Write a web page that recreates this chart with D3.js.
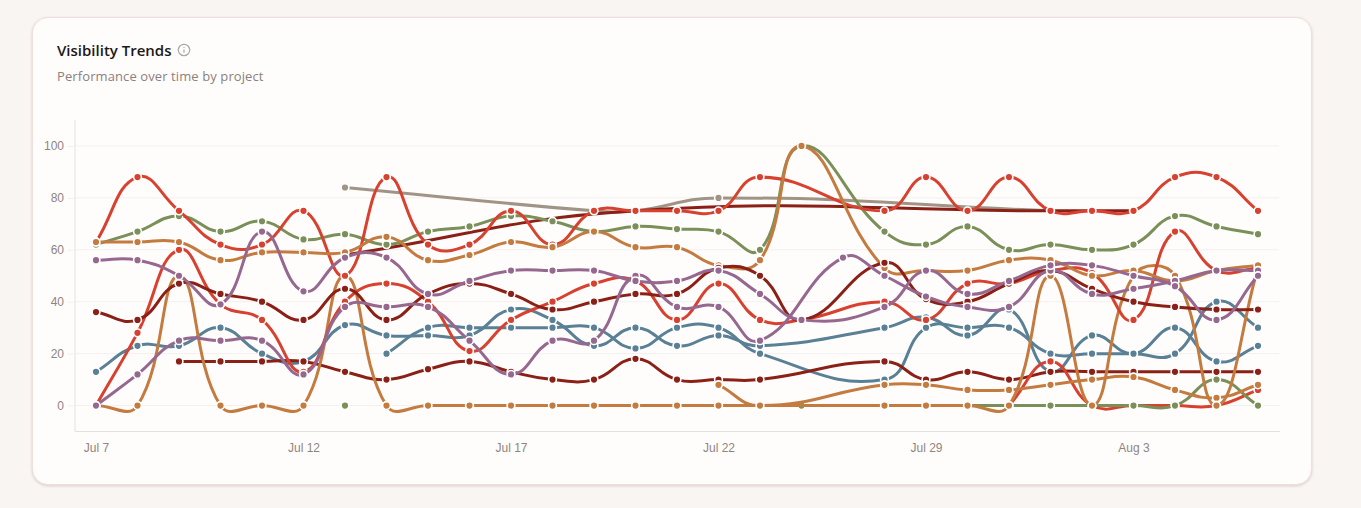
<!DOCTYPE html>
<html>
<head>
<meta charset="utf-8">
<script src="https://d3js.org/d3.v7.min.js"></script>
<style>
  body { margin: 0; background: #f9f5f3; font-family: "Open Sans", "Noto Sans", sans-serif; overflow: hidden; }
  .card {
    position: absolute; left: 32px; top: 17px; width: 1278px; height: 466px;
    background: #fffdfc; border: 1px solid #eee0dc; border-radius: 16px;
    box-shadow: 0 1px 3px rgba(90, 60, 50, 0.2);
  }
  .title { position: absolute; left: 24px; top: 22px; font-size: 15px; font-weight: 600; color: #1c1917; }
  .info { position: absolute; left: 144px; top: 25px; }
  .sub { position: absolute; left: 24px; top: 49px; font-size: 13px; letter-spacing: 0.1px; color: #8c807c; }
  svg.chart { position: absolute; left: 0; top: 0; }
  .tick text { font-family: "Liberation Sans", Arial, sans-serif; font-size: 12px; fill: #8f8480; }
</style>
</head>
<body>
<div class="card">
  <div class="title">Visibility Trends</div>
  <svg class="info" width="14" height="14" viewBox="0 0 14 14">
    <circle cx="7" cy="7" r="5.7" fill="none" stroke="#b0a6a3" stroke-width="1.2"></circle>
    <line x1="7" y1="6.4" x2="7" y2="9.8" stroke="#b0a6a3" stroke-width="1.2"></line>
    <circle cx="7" cy="4.4" r="0.7" fill="#b0a6a3"></circle>
  </svg>
  <div class="sub">Performance over time by project</div>
</div>
<svg class="chart" id="chart" width="1361" height="508"></svg>

<script>
const n = null; // no reading for that project on that date

const dates = ["Jul 7","Jul 8","Jul 9","Jul 10","Jul 11","Jul 12","Jul 13","Jul 14","Jul 15","Jul 16",
  "Jul 17","Jul 18","Jul 19","Jul 20","Jul 21","Jul 22","Jul 23","Jul 24","Jul 26","Jul 28",
  "Jul 29","Jul 30","Jul 31","Aug 1","Aug 2","Aug 3","Aug 4","Aug 5","Aug 6"];
const xTickLabels = ["Jul 7","Jul 12","Jul 17","Jul 22","Jul 29","Aug 3"];
const yTickLabels = [0, 20, 40, 60, 80, 100];

const red1 = [63,88,75,62,62,75,50,88,62,62,75,62,75,75,75,75,88,n,n,75,88,75,88,75,75,75,88,88,75];
const red2 = [0,28,60,39,33,13,40,47,40,21,33,40,47,48,33,47,33,33,n,40,33,47,47,52,51,33,67,52,53];
const red3 = [n,n,n,n,n,n,n,n,n,n,n,n,n,n,n,n,n,n,n,n,n,n,0,17,0,0,0,0,6];
const green1 = [62,67,73,67,71,64,66,62,67,69,73,71,67,69,68,67,60,100,n,67,62,69,60,62,60,62,73,69,66];
const green2 = [n,n,n,n,n,n,0,n,n,n,n,n,n,n,n,n,n,n,n,n,n,n,n,n,n,n,n,n,n];
const green3 = [n,n,n,n,n,n,n,n,n,n,n,n,n,n,n,n,n,0,n,0,0,0,0,0,0,0,0,10,0];
const orange1 = [63,63,63,56,59,59,59,65,56,58,63,61,67,61,61,54,56,100,n,53,52,52,56,56,50,52,48,52,54];
const orange2 = [0,0,50,0,0,0,50,0,0,0,0,0,0,0,0,0,0,n,n,0,0,0,0,50,0,50,50,0,53];
const orange3 = [n,n,n,n,n,n,n,n,n,n,n,n,n,n,n,8,0,n,n,8,8,6,6,8,10,11,6,3,8];
const purple1 = [56,56,50,39,67,44,57,57,43,48,52,52,52,48,48,52,43,33,n,38,52,43,48,54,54,50,46,33,50];
const purple2 = [0,12,25,25,25,12,38,38,38,25,12,25,25,50,38,38,25,n,57,50,42,38,38,52,43,45,48,52,52];
const darkred1 = [n,n,n,n,n,n,58,n,n,n,n,n,n,75,n,n,n,n,n,n,n,n,n,75,n,75,n,n,n];
const darkred2 = [36,33,47,43,40,33,45,33,43,47,43,37,40,43,43,53,50,33,n,55,41,40,47,52,45,40,38,37,37];
const darkred3 = [n,n,17,17,17,17,13,10,14,17,13,10,10,18,10,10,10,n,n,17,10,13,10,13,13,13,13,13,13];
const blue1 = [13,23,23,30,20,17,31,27,27,27,37,33,23,30,23,27,23,n,n,30,34,27,37,13,27,20,30,17,23];
const blue2 = [n,n,n,n,n,n,n,20,30,30,30,30,30,22,30,30,20,n,n,10,30,30,30,20,20,20,20,40,30];
const taupe = [n,n,n,n,n,n,84,n,n,n,n,n,75,75,n,80,n,n,n,n,n,n,n,75,n,n,n,n,n];

const RED = "#d8412f", GREEN = "#7b9059", ORANGE = "#c47b3f", PURPLE = "#97688f",
      DARK = "#8b2016", BLUE = "#5a8096", TAUPE = "#a09486";

// bottom to top, same stacking as the reference
const series = [
  [taupe, TAUPE], [darkred1, DARK], [blue1, BLUE], [blue2, BLUE], [darkred3, DARK],
  [red3, RED], [green2, GREEN], [green3, GREEN], [orange3, ORANGE], [orange2, ORANGE],
  [red2, RED], [green1, GREEN], [red1, RED], [orange1, ORANGE], [darkred2, DARK],
  [purple2, PURPLE], [purple1, PURPLE]
];

// spline whose handle lengths follow the length of the neighbouring chords
function chordSpline(tension) {
  return function (context) {
    var pts;
    return {
      lineStart: function () { pts = []; },
      point: function (px, py) { pts.push([px, py]); },
      lineEnd: function () {
        var c = pts.map(function (p, i) {
          var a = pts[i - 1] || p, b = pts[i + 1] || p;
          var d0 = Math.hypot(p[0] - a[0], p[1] - a[1]);
          var d1 = Math.hypot(b[0] - p[0], b[1] - p[1]);
          var s = (d0 + d1) || 1;
          return {
            inX: p[0] - tension * d0 / s * (b[0] - a[0]), inY: p[1] - tension * d0 / s * (b[1] - a[1]),
            outX: p[0] + tension * d1 / s * (b[0] - a[0]), outY: p[1] + tension * d1 / s * (b[1] - a[1])
          };
        });
        pts.forEach(function (p, i) {
          if (i === 0) context.moveTo(p[0], p[1]);
          else context.bezierCurveTo(c[i - 1].outX, c[i - 1].outY, c[i].inX, c[i].inY, p[0], p[1]);
        });
      }
    };
  };
}

var svg = d3.select("#chart");

var x = d3.scalePoint().domain(dates).range([96, 1258]);
var y = d3.scaleLinear().domain([-10, 110]).range([431.5, 120]);

// grid
svg.append("g").selectAll("line").data(yTickLabels).enter().append("line")
  .attr("x1", 75).attr("x2", 1279)
  .attr("y1", d => y(d)).attr("y2", d => y(d))
  .attr("stroke", "#f3f0ee");

var yAxis = svg.append("g").attr("transform", "translate(75,0)")
  .call(d3.axisLeft(y).tickValues(yTickLabels).tickSize(8).tickPadding(3));
var xAxis = svg.append("g").attr("transform", "translate(0,431.5)")
  .call(d3.axisBottom(x).tickValues(xTickLabels).tickSize(0).tickPadding(12));
svg.selectAll(".domain").attr("stroke", "#e4e0de");
svg.selectAll(".tick line").attr("stroke", "#f3f0ee");
xAxis.select(".domain").attr("d", "M75,0H1280");
yAxis.select(".domain").attr("d", "M0,120V431.5");

var line = d3.line()
  .x(d => x(d.date))
  .y(d => y(d.value))
  .curve(chordSpline(0.45));

series.forEach(function (s) {
  var pts = [];
  s[0].forEach(function (v, i) { if (v !== null) pts.push({ date: dates[i], value: v }); });
  var g = svg.append("g");
  if (pts.length > 1) {
    g.append("path").attr("d", line(pts))
      .attr("fill", "none").attr("stroke", s[1]).attr("stroke-width", 3);
  }
  g.selectAll("circle").data(pts).enter().append("circle")
    .attr("cx", d => x(d.date)).attr("cy", d => y(d.value)).attr("r", 3.9)
    .attr("fill", s[1]).attr("stroke", "#fff").attr("stroke-width", 1.6);
});
</script>
</body>
</html>
